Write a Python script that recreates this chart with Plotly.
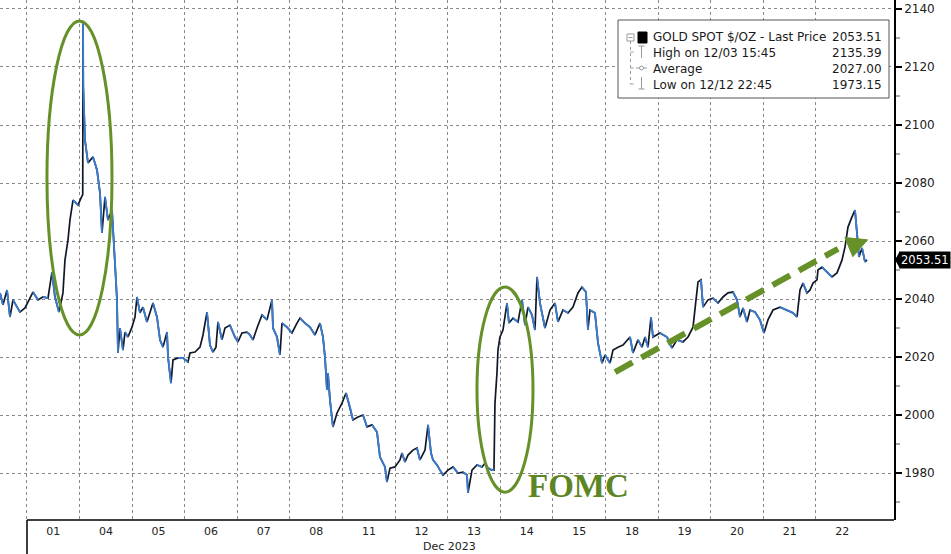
import plotly.graph_objects as go

# ---------------- data ----------------
day_labels = ["01", "04", "05", "06", "07", "08", "11", "12", "13", "14", "15", "18", "19", "20", "21", "22"]
month_label = "Dec 2023"

# position in trading-day units (0 = start of Dec 01), price in $/oz
pos = [
    -0.513, -0.456, -0.380, -0.323, -0.266, -0.190, -0.133, -0.038, 0.057, 0.114,
    0.209, 0.304, 0.399, 0.475, 0.532, 0.608, 0.684, 0.722, 0.779, 0.817,
    0.875, 0.970, 1.027, 1.060, 1.065, 1.070, 1.103, 1.160, 1.255, 1.331,
    1.388, 1.426, 1.483, 1.540, 1.616, 1.673, 1.711, 1.730, 1.768, 1.825,
    1.863, 1.920, 1.996, 2.053, 2.091, 2.148, 2.205, 2.281, 2.338, 2.395,
    2.471, 2.529, 2.586, 2.662, 2.681, 2.738, 2.776, 2.871, 2.966, 3.061,
    3.099, 3.194, 3.289, 3.346, 3.422, 3.479, 3.536, 3.593, 3.631, 3.707,
    3.764, 3.859, 3.954, 4.011, 4.087, 4.183, 4.240, 4.297, 4.373, 4.468,
    4.563, 4.658, 4.677, 4.753, 4.810, 4.848, 4.943, 5.038, 5.133, 5.190,
    5.285, 5.380, 5.475, 5.570, 5.627, 5.665, 5.703, 5.722, 5.760, 5.817,
    5.894, 5.989, 6.065, 6.141, 6.198, 6.293, 6.388, 6.464, 6.559, 6.654,
    6.711, 6.806, 6.844, 6.901, 6.996, 7.091, 7.129, 7.186, 7.243, 7.338,
    7.414, 7.471, 7.567, 7.624, 7.681, 7.719, 7.795, 7.852, 7.909, 8.004,
    8.099, 8.194, 8.289, 8.365, 8.384, 8.460, 8.555, 8.650, 8.707, 8.764,
    8.840, 8.878, 8.897, 8.935, 8.954, 8.992, 9.049, 9.125, 9.163, 9.240,
    9.335, 9.411, 9.468, 9.525, 9.601, 9.658, 9.696, 9.753, 9.848, 9.943,
    10.038, 10.095, 10.190, 10.285, 10.380, 10.475, 10.551, 10.627, 10.665, 10.703,
    10.798, 10.856, 10.932, 10.989, 11.084, 11.141, 11.236, 11.331, 11.464, 11.521,
    11.616, 11.692, 11.749, 11.806, 11.863, 11.901, 12.034, 12.167, 12.262, 12.357,
    12.471, 12.567, 12.662, 12.719, 12.757, 12.814, 12.852, 12.947, 13.042, 13.137,
    13.232, 13.327, 13.422, 13.498, 13.555, 13.612, 13.688, 13.745, 13.840, 13.935,
    14.011, 14.087, 14.183, 14.316, 14.449, 14.563, 14.639, 14.696, 14.753, 14.829,
    14.886, 14.943, 15.019, 15.038, 15.114, 15.209, 15.304, 15.399, 15.494, 15.551,
    15.608, 15.684, 15.741, 15.779, 15.817, 15.875, 15.932, 15.970,
]
price = [
    2042.1, 2038.0, 2043.1, 2033.8, 2039.7, 2037.2, 2035.5, 2036.9, 2040.7, 2042.4,
    2039.7, 2040.7, 2040.3, 2049.3, 2040.7, 2035.5, 2042.1, 2053.4, 2060.3, 2067.2,
    2074.1, 2072.4, 2074.8, 2076.0, 2135.39, 2113.1, 2094.8, 2086.9, 2089.0, 2084.5,
    2076.6, 2062.8, 2075.2, 2067.2, 2070.7, 2052.4, 2039.7, 2021.4, 2030.0, 2022.4,
    2028.6, 2026.9, 2030.3, 2033.8, 2040.7, 2035.2, 2037.2, 2032.1, 2035.2, 2038.6,
    2033.8, 2025.9, 2023.4, 2028.6, 2020.0, 2011.0, 2019.0, 2019.7, 2019.7, 2018.3,
    2021.4, 2021.7, 2023.4, 2027.6, 2035.5, 2024.1, 2021.7, 2023.4, 2032.1, 2025.9,
    2030.0, 2031.0, 2026.9, 2025.2, 2028.3, 2028.6, 2027.6, 2025.9, 2030.0, 2034.5,
    2032.8, 2039.7, 2030.0, 2026.9, 2020.7, 2031.7, 2030.3, 2028.3, 2031.7, 2033.4,
    2031.7, 2030.3, 2027.6, 2031.7, 2026.9, 2020.0, 2008.6, 2014.5, 2005.2, 1995.9,
    2000.7, 2004.1, 2007.6, 2002.8, 1998.3, 1999.3, 2000.0, 1995.9, 1996.6, 1994.1,
    1985.5, 1982.1, 1976.9, 1981.7, 1982.1, 1984.5, 1986.9, 1983.8, 1986.2, 1987.9,
    1988.6, 1984.5, 1987.9, 1996.6, 1986.9, 1984.5, 1982.8, 1981.0, 1979.3, 1981.0,
    1982.1, 1980.0, 1980.3, 1979.3, 1973.15, 1981.0, 1982.8, 1982.1, 1983.4, 1981.7,
    1981.0, 1981.0, 2004.1, 2014.5, 2022.4, 2026.9, 2029.3, 2038.6, 2031.7, 2033.4,
    2032.1, 2039.7, 2031.0, 2037.2, 2034.5, 2029.3, 2047.6, 2038.6, 2030.0, 2036.2,
    2038.6, 2032.1, 2036.2, 2035.2, 2037.2, 2042.1, 2044.1, 2042.4, 2029.3, 2036.2,
    2035.2, 2024.8, 2017.9, 2020.7, 2017.9, 2022.4, 2023.4, 2024.1, 2026.9, 2021.4,
    2025.9, 2023.4, 2026.9, 2023.4, 2033.8, 2026.9, 2028.3, 2026.9, 2023.1, 2025.9,
    2025.2, 2026.9, 2030.3, 2039.7, 2045.9, 2046.6, 2037.2, 2039.7, 2040.3, 2038.6,
    2040.7, 2042.1, 2042.4, 2039.7, 2033.8, 2036.9, 2032.1, 2036.2, 2035.5, 2032.8,
    2028.3, 2032.8, 2036.2, 2037.2, 2036.2, 2035.2, 2033.8, 2043.1, 2045.5, 2042.1,
    2043.1, 2045.5, 2046.6, 2050.0, 2051.0, 2049.3, 2047.6, 2049.0, 2053.4, 2057.9,
    2064.8, 2068.3, 2070.7, 2062.8, 2054.5, 2057.6, 2052.8, 2053.51,
]

y_ticks = [1980, 2000, 2020, 2040, 2060, 2080, 2100, 2120, 2140]
y_minor = [1970, 1990, 2010, 2030, 2050, 2070, 2090, 2110, 2130]

legend_rows = ["GOLD SPOT $/OZ - Last Price", "High on 12/03 15:45", "Average", "Low on 12/12 22:45"]
legend_vals = ["2053.51", "2135.39", "2027.00", "1973.15"]
last_price = 2053.51

# ---------------- layout helpers (pixel -> paper) ----------------
W, H = 951, 554
PL, PR, PT, PB = 0, 894, 0, 520


def xp(px):
    return (px - PL) / (PR - PL)


def yp(py):
    return 1 - (py - PT) / (PB - PT)


GREEN = "#659128"
BLUE = "#3b7bd0"
GRID = "#8a8a8a"
FONT = "DejaVu Sans"

fig = go.Figure()

# black base line
fig.add_trace(go.Scatter(x=pos, y=price, mode="lines",
                         line=dict(color="#101828", width=1.7),
                         hoverinfo="skip", showlegend=False))
# blue segments where price falls
bx, by = [], []
for i in range(1, len(price)):
    if price[i] <= price[i - 1]:
        bx += [pos[i - 1], pos[i], None]
        by += [price[i - 1], price[i], None]
fig.add_trace(go.Scatter(x=bx, y=by, mode="lines",
                         line=dict(color=BLUE, width=1.9),
                         hoverinfo="skip", showlegend=False, connectgaps=False))

shapes = []
annotations = []

# ellipses
shapes.append(dict(type="circle", xref="x", yref="y", x0=0.38, x1=1.616, y0=2027.6, y1=2135.9,
                   line=dict(color=GREEN, width=3)))
shapes.append(dict(type="circle", xref="x", yref="y", x0=8.555, x1=9.62, y0=1973.4, y1=2044.1,
                   line=dict(color=GREEN, width=3)))
# dashed trend arrow
shapes.append(dict(type="line", xref="x", yref="y", x0=11.18, y0=2014.8, x1=15.42, y1=2057.3,
                   line=dict(color=GREEN, width=6, dash="20px,10px")))
shapes.append(dict(type="path", xref="x", yref="y",
                   path="M 15.55 2061.2 L 15.98 2060.4 L 15.70 2054.6 Z",
                   fillcolor=GREEN, line=dict(color=GREEN, width=1)))

# axis frame pieces
shapes.append(dict(type="line", xref="paper", yref="paper", x0=xp(27), x1=xp(894), y0=0, y1=0,
                   line=dict(color="black", width=1.5)))
shapes.append(dict(type="line", xref="paper", yref="paper", x0=xp(27), x1=xp(27), y0=0, y1=yp(554),
                   line=dict(color="black", width=1.5)))

# legend box
shapes.append(dict(type="rect", xref="paper", yref="paper", x0=xp(618), x1=xp(889), y0=yp(98), y1=yp(20),
                   fillcolor="white", line=dict(color="#555555", width=1)))
# tree lines
TREE = "#999999"
shapes.append(dict(type="rect", xref="paper", yref="paper", x0=xp(627), x1=xp(634), y0=yp(41), y1=yp(34),
                   line=dict(color=TREE, width=1)))
shapes.append(dict(type="line", xref="paper", yref="paper", x0=xp(628.5), x1=xp(632.5), y0=yp(37.5), y1=yp(37.5),
                   line=dict(color=TREE, width=1)))
shapes.append(dict(type="line", xref="paper", yref="paper", x0=xp(630.5), x1=xp(630.5), y0=yp(41), y1=yp(84),
                   line=dict(color=TREE, width=1, dash="dot")))
for ry in (52, 68, 84):
    shapes.append(dict(type="line", xref="paper", yref="paper", x0=xp(630.5), x1=xp(636), y0=yp(ry), y1=yp(ry),
                       line=dict(color=TREE, width=1, dash="dot")))
# black square
shapes.append(dict(type="rect", xref="paper", yref="paper", x0=xp(638), x1=xp(647), y0=yp(43), y1=yp(32),
                   fillcolor="black", line=dict(color="black", width=1)))
# high icon
shapes.append(dict(type="line", xref="paper", yref="paper", x0=xp(641.5), x1=xp(641.5), y0=yp(46), y1=yp(58),
                   line=dict(color=TREE, width=1)))
shapes.append(dict(type="line", xref="paper", yref="paper", x0=xp(638.5), x1=xp(644.5), y0=yp(46), y1=yp(46),
                   line=dict(color=TREE, width=1)))
# average icon
shapes.append(dict(type="line", xref="paper", yref="paper", x0=xp(636), x1=xp(647), y0=yp(68), y1=yp(68),
                   line=dict(color=TREE, width=1)))
shapes.append(dict(type="circle", xref="paper", yref="paper", x0=xp(639.5), x1=xp(643.5), y0=yp(70), y1=yp(66),
                   fillcolor="white", line=dict(color=TREE, width=1)))
# low icon
shapes.append(dict(type="line", xref="paper", yref="paper", x0=xp(641.5), x1=xp(641.5), y0=yp(77), y1=yp(89),
                   line=dict(color=TREE, width=1)))
shapes.append(dict(type="line", xref="paper", yref="paper", x0=xp(638.5), x1=xp(644.5), y0=yp(89), y1=yp(89),
                   line=dict(color=TREE, width=1)))

# price tag pointer
shapes.append(dict(type="path", xref="paper", yref="y",
                   path=f"M {xp(895)} {last_price} L {xp(900)} {last_price + 3.1} L {xp(900)} {last_price - 3.1} Z",
                   fillcolor="black", line=dict(color="black", width=0)))

# legend text
for i, (lab, val) in enumerate(zip(legend_rows, legend_vals)):
    ry = [37, 53, 69, 85][i]
    annotations.append(dict(xref="paper", yref="paper", x=xp(651), y=yp(ry), text=lab, showarrow=False,
                            xanchor="left", yanchor="middle", font=dict(family=FONT, size=12, color="#1a1a1a")))
    annotations.append(dict(xref="paper", yref="paper", x=xp(884), y=yp(ry), text=val, showarrow=False,
                            xanchor="right", yanchor="middle", font=dict(family=FONT, size=12, color="#1a1a1a")))

# price tag
annotations.append(dict(xref="paper", yref="y", x=xp(899), y=last_price, text=f"{last_price:.2f}",
                        showarrow=False, xanchor="left", yanchor="middle", bgcolor="black",
                        font=dict(family=FONT, size=11.5, color="white"), borderpad=1))

# FOMC label
annotations.append(dict(xref="paper", yref="paper", x=xp(578), y=yp(486), text="<b>FOMC</b>", showarrow=False,
                        xanchor="center", yanchor="middle",
                        font=dict(family="Liberation Serif", size=33, color="#5d8524")))

# month label
annotations.append(dict(xref="paper", yref="paper", x=xp(449), y=yp(546), text=month_label, showarrow=False,
                        xanchor="center", yanchor="middle", font=dict(family=FONT, size=11, color="#222222")))

fig.update_layout(
    width=W, height=H,
    margin=dict(l=PL, r=W - PR, t=PT, b=H - PB, autoexpand=False),
    paper_bgcolor="white", plot_bgcolor="white",
    showlegend=False,
    shapes=shapes, annotations=annotations,
    xaxis=dict(
        range=[-0.513, 16.483], automargin=False,
        tickmode="array", tickvals=[i + 0.5 for i in range(len(day_labels))], ticktext=day_labels,
        ticks="", showgrid=False, showline=False, zeroline=False, ticklabelstandoff=3,
        tickfont=dict(family=FONT, size=11, color="#222222"),
        minor=dict(tickmode="array", tickvals=list(range(len(day_labels))), showgrid=True,
                   gridcolor=GRID, gridwidth=1, griddash="3px,3px", ticks=""),
    ),
    yaxis=dict(
        side="right", range=[1963.8, 2143.1], automargin=False,
        tickmode="array", tickvals=y_ticks,
        ticks="outside", ticklen=6, tickwidth=2, tickcolor="black",
        showline=True, linecolor="black", linewidth=1.5,
        showgrid=True, gridcolor=GRID, gridwidth=1, griddash="3px,3px", zeroline=False,
        tickfont=dict(family=FONT, size=12, color="#222222"),
        minor=dict(tickmode="array", tickvals=y_minor, ticks="outside", ticklen=4, tickcolor="#aaaaaa",
                   showgrid=False),
    ),
)

fig.write_html("out.html", config={"displayModeBar": False},
               post_script="document.body.style.margin='0px';document.body.style.overflow='hidden';")
